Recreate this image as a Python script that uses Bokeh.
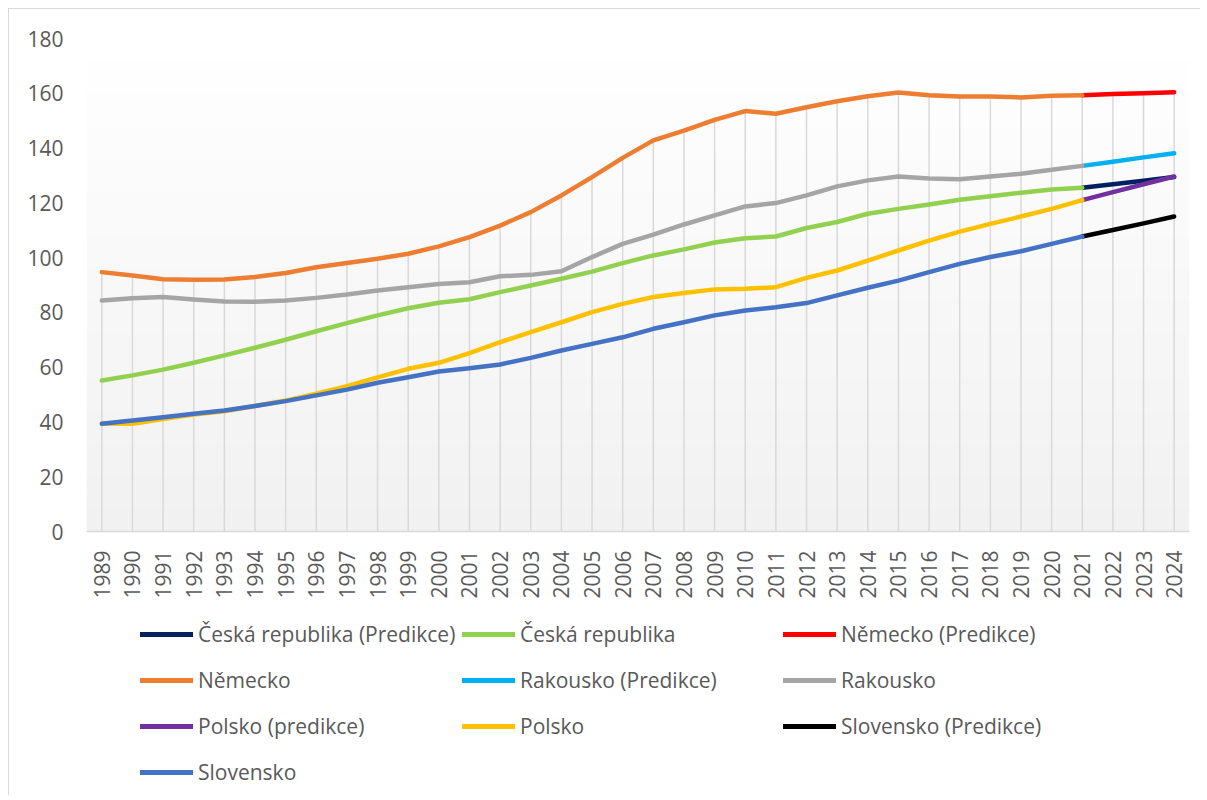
import numpy as np
from bokeh.plotting import figure
from bokeh.layouts import column
from bokeh.models import Range1d, FixedTicker, Legend, LegendItem, BoxAnnotation
from bokeh.embed import file_html
from bokeh.resources import INLINE

# ---------------- data ----------------
years = list(range(1989, 2022))
pred_years = [2021, 2022, 2023, 2024]
all_years = list(range(1989, 2025))
y_ticks = [0, 20, 40, 60, 80, 100, 120, 140, 160, 180]

cz = [55.1, 57.0, 59.1, 61.6, 64.3, 67.1, 70.0, 73.1, 76.1, 78.9, 81.5, 83.5,
      84.8, 87.4, 89.8, 92.3, 94.9, 98.0, 100.8, 103.0, 105.5, 107.1, 107.7, 110.8,
      113.0, 116.0, 117.8, 119.4, 121.1, 122.4, 123.7, 124.9, 125.5]
cz_pred = [125.5, 126.8, 128.1, 129.4]

de = [94.7, 93.5, 92.1, 91.9, 92.0, 92.9, 94.4, 96.5, 98.0, 99.6, 101.4, 104.1,
      107.5, 111.7, 116.6, 122.7, 129.4, 136.4, 142.8, 146.4, 150.3, 153.5, 152.5, 154.9,
      157.1, 158.9, 160.3, 159.3, 158.8, 158.8, 158.5, 159.1, 159.3]
de_pred = [159.3, 159.7, 160.0, 160.4]

at = [84.3, 85.2, 85.6, 84.7, 84.0, 83.9, 84.3, 85.3, 86.5, 88.0, 89.2, 90.4,
      91.0, 93.2, 93.7, 95.0, 100.2, 105.0, 108.4, 112.1, 115.4, 118.7, 119.9, 122.7,
      126.0, 128.2, 129.6, 128.9, 128.6, 129.6, 130.6, 132.1, 133.5]
at_pred = [133.5, 135.0, 136.6, 138.1]

pl = [39.4, 39.3, 41.1, 42.7, 43.9, 45.8, 47.8, 50.3, 53.1, 56.3, 59.4, 61.6,
      65.1, 69.1, 72.8, 76.4, 80.1, 83.1, 85.6, 87.1, 88.4, 88.6, 89.2, 92.6,
      95.3, 98.9, 102.6, 106.2, 109.5, 112.3, 115.0, 117.8, 121.0]
pl_pred = [121.0, 123.9, 126.8, 129.6]

sk = [39.3, 40.5, 41.7, 43.0, 44.2, 45.8, 47.6, 49.7, 51.8, 54.3, 56.3, 58.4,
      59.6, 61.0, 63.4, 66.1, 68.5, 70.9, 74.0, 76.4, 78.9, 80.7, 81.9, 83.4,
      86.2, 89.0, 91.6, 94.7, 97.7, 100.2, 102.3, 105.0, 107.7]
sk_pred = [107.7, 110.1, 112.5, 115.0]

series = [
    ("Česká republika (Predikce)", pred_years, cz_pred, "#002060"),
    ("Česká republika", years, cz, "#92D050"),
    ("Německo (Predikce)", pred_years, de_pred, "#FF0000"),
    ("Německo", years, de, "#ED7D31"),
    ("Rakousko (Predikce)", pred_years, at_pred, "#00B0F0"),
    ("Rakousko", years, at, "#A5A5A5"),
    ("Polsko (predikce)", pred_years, pl_pred, "#7030A0"),
    ("Polsko", years, pl, "#FFC000"),
    ("Slovensko (Predikce)", pred_years, sk_pred, "#000000"),
    ("Slovensko", years, sk, "#4472C4"),
]

FONT = "Open Sans"
TXT = "#595959"
BORDER = "#D9D9D9"
LW = 4.5

W = 1200
H_TOP = 610
H_LEG = 185

# ---------------- main chart ----------------
p = figure(width=W, height=H_TOP,
           x_range=Range1d(1988.5, 2024.5), y_range=Range1d(0, 180),
           output_backend="svg", toolbar_location=None,
           min_border_left=86, min_border_right=W - 1189,
           min_border_top=38, min_border_bottom=H_TOP - 531)
p.styles = {
    "background": f"linear-gradient({BORDER},{BORDER}) 8px 8px / 1px calc(100% - 8px) no-repeat, "
                  f"linear-gradient({BORDER},{BORDER}) 8px 8px / calc(100% - 8px) 1px no-repeat, #ffffff"
}
p.background_fill_color = "white"
p.border_fill_color = None
p.border_fill_alpha = 0
p.outline_line_color = None
p.xgrid.grid_line_color = None
p.ygrid.grid_line_color = None

# plot-area gradient (white at top -> light grey at bottom)
n_bands = 45
edges = np.linspace(0, 180, n_bands + 1)
for i in range(n_bands):
    frac = (i + 0.5) / n_bands
    g = int(round(241 + (255 - 241) * frac))
    col = "#%02x%02x%02x" % (g, g, g)
    p.add_layout(BoxAnnotation(bottom=edges[i], top=min(180, edges[i + 1] + 0.5),
                               fill_color=col, fill_alpha=1.0,
                               line_color=None, level="underlay"))

# drop lines from the highest point of each year down to the axis
vals_by_year = {}
for _, xs, ys, _ in series:
    for xv, yv in zip(xs, ys):
        vals_by_year[xv] = max(vals_by_year.get(xv, 0), yv)
drop_x = sorted(vals_by_year)
drop_top = [vals_by_year[x] for x in drop_x]
p.segment(x0=drop_x, y0=[0] * len(drop_x), x1=drop_x, y1=drop_top,
          line_color=BORDER, line_width=1.5)

for name, xs, ys, col in series:
    p.line(xs, ys, line_color=col, line_width=LW,
           line_cap="round", line_join="round")

# axes
p.xaxis.ticker = FixedTicker(ticks=all_years)
p.xaxis.major_label_orientation = np.pi / 2
p.xaxis.axis_line_color = BORDER
p.xaxis.axis_line_width = 1.5
p.xaxis.major_tick_line_color = None
p.xaxis.minor_tick_line_color = None
p.xaxis.major_label_standoff = 13
p.xaxis.major_label_text_font = FONT
p.xaxis.major_label_text_font_size = "21px"
p.xaxis.major_label_text_color = TXT

p.yaxis.ticker = FixedTicker(ticks=y_ticks)
p.yaxis.axis_line_color = None
p.yaxis.major_tick_line_color = None
p.yaxis.minor_tick_line_color = None
p.yaxis.major_label_standoff = 17
p.yaxis.major_label_text_font = FONT
p.yaxis.major_label_text_font_size = "21px"
p.yaxis.major_label_text_color = TXT

# ---------------- legend panel ----------------
q = figure(width=W, height=H_LEG, x_range=Range1d(0, 1), y_range=Range1d(0, 1),
           output_backend="svg", toolbar_location=None,
           x_axis_type=None, y_axis_type=None,
           min_border_left=0, min_border_right=0, min_border_top=0, min_border_bottom=0)
q.styles = {
    "background": f"linear-gradient({BORDER},{BORDER}) 8px 0px / 1px 100% no-repeat, #ffffff"
}
q.background_fill_color = None
q.background_fill_alpha = 0
q.border_fill_color = None
q.border_fill_alpha = 0
q.outline_line_color = None
q.xgrid.grid_line_color = None
q.ygrid.grid_line_color = None

# legend swatches only (no visible data: a single NaN point)
swatch = {}
for name, _, _, col in series:
    swatch[name] = q.line(x=[float("nan")], y=[float("nan")], line_color=col,
                          line_width=LW + 0.5, line_cap="round")

names = [s[0] for s in series]
columns_ = [names[0::3], names[1::3], names[2::3]]
col_x = [54, 376, 697]   # offsets from the (aligned) plot-area left edge
ITEM_H = 36
GAP = 10
LEG_TOP = 6
for cx, cnames in zip(col_x, columns_):
    n = len(cnames)
    h = n * ITEM_H + (n - 1) * GAP
    vy = H_LEG - (LEG_TOP + h)
    leg = Legend(items=[LegendItem(label=nm, renderers=[swatch[nm]]) for nm in cnames],
                 location=(cx, vy), orientation="vertical",
                 label_text_font=FONT, label_text_font_size="21px",
                 label_text_color=TXT, label_height=ITEM_H, glyph_height=ITEM_H,
                 glyph_width=53, label_standoff=5, spacing=GAP, padding=0,
                 margin=0, border_line_color=None, background_fill_alpha=0)
    q.add_layout(leg, "center")

layout = column(p, q, spacing=0)
open("out.html", "w").write(file_html(layout, INLINE))
